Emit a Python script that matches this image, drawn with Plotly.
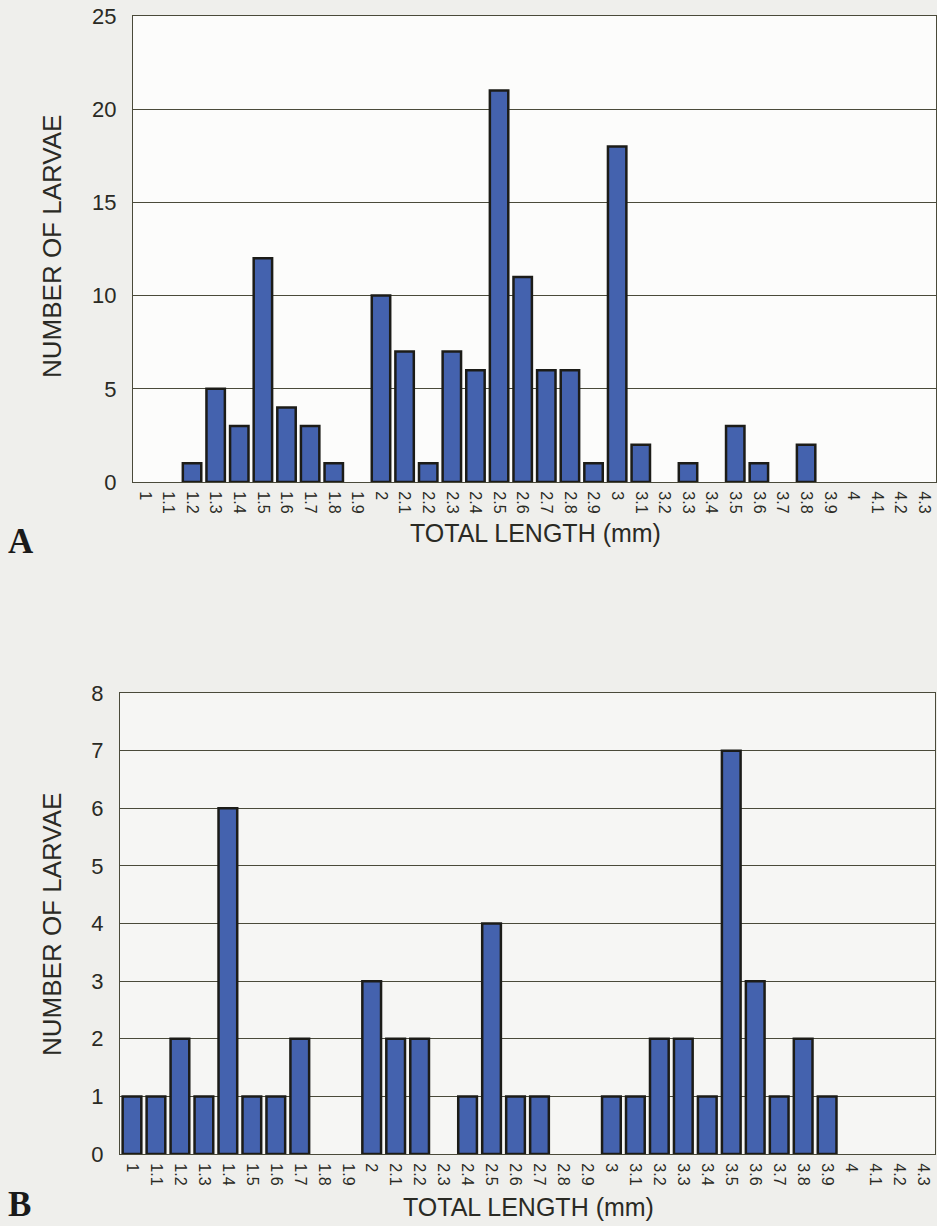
import plotly.graph_objects as go

lengths = ["1", "1.1", "1.2", "1.3", "1.4", "1.5", "1.6", "1.7", "1.8", "1.9",
           "2", "2.1", "2.2", "2.3", "2.4", "2.5", "2.6", "2.7", "2.8", "2.9",
           "3", "3.1", "3.2", "3.3", "3.4", "3.5", "3.6", "3.7", "3.8", "3.9",
           "4", "4.1", "4.2", "4.3"]
counts_a = [0, 0, 1, 5, 3, 12, 4, 3, 1, 0,
            10, 7, 1, 7, 6, 21, 11, 6, 6, 1,
            18, 2, 0, 1, 0, 3, 1, 0, 2, 0,
            0, 0, 0, 0]
counts_b = [1, 1, 2, 1, 6, 1, 1, 2, 0, 0,
            3, 2, 2, 0, 1, 4, 1, 1, 0, 0,
            1, 1, 2, 2, 1, 7, 3, 1, 2, 1,
            0, 0, 0, 0]
ticks_a = [0, 5, 10, 15, 20, 25]
ticks_b = [0, 1, 2, 3, 4, 5, 6, 7, 8]

W, H = 937, 1226
BAR = "#4462ae"
EDGE = "#1c1c18"
GRID = "#4a4a3a"
FONT = "Liberation Sans, Arial, sans-serif"
TXT = "#2a2a24"

def py(px):
    return 1 - px / H

def pxx(px):
    return px / W

def nz(vals):
    return [v if v else None for v in vals]

fig = go.Figure()
fig.add_trace(go.Bar(x=lengths, y=nz(counts_a), marker=dict(color=BAR, line=dict(color=EDGE, width=2.5)),
                     xaxis="x", yaxis="y", showlegend=False, hoverinfo="skip"))
fig.add_trace(go.Bar(x=lengths, y=nz(counts_b), marker=dict(color=BAR, line=dict(color=EDGE, width=2.5)),
                     xaxis="x2", yaxis="y2", showlegend=False, hoverinfo="skip"))

axis_common = dict(showline=True, linecolor=GRID, linewidth=1.3, mirror=True, automargin=False)
xcommon = dict(axis_common, type="category", tickangle=90, tickfont=dict(size=16, color=TXT),
               ticks="", showgrid=False, ticklabelstandoff=5)
ycommon = dict(axis_common, showgrid=True, gridcolor=GRID, gridwidth=1.2, zeroline=False,
               tickfont=dict(size=22, color=TXT), ticks="", ticklabelstandoff=11)

fig.update_layout(
    width=W, height=H,
    margin=dict(l=0, r=0, t=0, b=0, pad=0),
    paper_bgcolor="#efefec",
    plot_bgcolor="rgba(0,0,0,0)",
    font=dict(family=FONT, color=TXT),
    bargap=0.22,
    xaxis=dict(xcommon, domain=[pxx(133), pxx(936)], anchor="y"),
    yaxis=dict(ycommon, domain=[py(482), py(16)], anchor="x", range=[0, 25], tickvals=ticks_a),
    xaxis2=dict(xcommon, domain=[pxx(120), pxx(935)], anchor="y2"),
    yaxis2=dict(ycommon, domain=[py(1154), py(693)], anchor="x2", range=[0, 8], tickvals=ticks_b),
    shapes=[
        dict(type="rect", xref="paper", yref="paper", x0=pxx(133), x1=pxx(936), y0=py(482), y1=py(16),
             fillcolor="#fcfcfb", line=dict(width=0), layer="below"),
        dict(type="rect", xref="paper", yref="paper", x0=pxx(120), x1=pxx(935), y0=py(1154), y1=py(693),
             fillcolor="#f6f6f4", line=dict(width=0), layer="below"),
    ],
    annotations=[
        dict(text="NUMBER OF LARVAE", xref="paper", yref="paper", x=pxx(52), y=py(247), textangle=-90,
             showarrow=False, font=dict(size=26, family=FONT, color=TXT), xanchor="center", yanchor="middle"),
        dict(text="NUMBER OF LARVAE", xref="paper", yref="paper", x=pxx(52), y=py(925), textangle=-90,
             showarrow=False, font=dict(size=26, family=FONT, color=TXT), xanchor="center", yanchor="middle"),
        dict(text="TOTAL LENGTH (mm)", xref="paper", yref="paper", x=pxx(535), y=py(533),
             showarrow=False, font=dict(size=25, family=FONT, color=TXT), xanchor="center", yanchor="middle"),
        dict(text="TOTAL LENGTH (mm)", xref="paper", yref="paper", x=pxx(528), y=py(1207),
             showarrow=False, font=dict(size=25, family=FONT, color=TXT), xanchor="center", yanchor="middle"),
        dict(text="<b>A</b>", xref="paper", yref="paper", x=pxx(6), y=py(541),
             showarrow=False, font=dict(size=35, family="Liberation Serif, Times New Roman, serif", color="#1a1a1a"),
             xanchor="left", yanchor="middle"),
        dict(text="<b>B</b>", xref="paper", yref="paper", x=pxx(6), y=py(1204),
             showarrow=False, font=dict(size=35, family="Liberation Serif, Times New Roman, serif", color="#1a1a1a"),
             xanchor="left", yanchor="middle"),
    ],
)

fig.write_html("out.html", config={"displayModeBar": False},
               post_script="document.body.style.margin='0';document.body.style.overflow='hidden';")
